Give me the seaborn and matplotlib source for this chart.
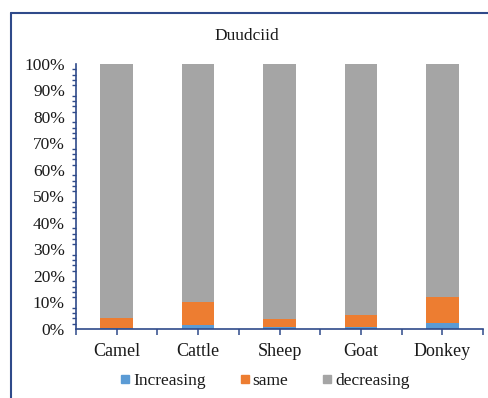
import numpy as np
import pandas as pd
import seaborn as sns
import matplotlib.pyplot as plt
from matplotlib.ticker import MultipleLocator, FixedLocator, PercentFormatter
from matplotlib.lines import Line2D

# Share of households by livestock trend (percent)
animals = ["Camel", "Cattle", "Sheep", "Goat", "Donkey"]
increasing = [0.5, 1.5, 0.6, 0.6, 2.4]
same = [3.5, 8.8, 3.1, 4.6, 9.6]
decreasing = [96.0, 89.7, 96.3, 94.8, 88.0]

series_names = ["Increasing", "same", "decreasing"]
colors = ["#5B9BD5", "#ED7D31", "#A5A5A5"]
axis_color = "#2F4A8A"

sns.set_theme(style="white")
plt.rcParams["font.family"] = ["Liberation Serif", "DejaVu Serif"]

df = pd.DataFrame({"animal": animals, "Increasing": increasing,
                   "same": same, "decreasing": decreasing})
# cumulative tops for stacking (drawn back to front)
df["top_inc"] = df["Increasing"]
df["top_same"] = df["top_inc"] + df["same"]
df["top_dec"] = df["top_same"] + df["decreasing"]

fig = plt.figure(figsize=(4.88, 3.98), dpi=100)
ax = fig.add_axes([76 / 488, 1 - 329 / 398, (483 - 76) / 488, (329 - 64) / 398])

for col, c in zip(["top_dec", "top_same", "top_inc"], colors[::-1]):
    sns.barplot(data=df, x="animal", y=col, color=c, width=0.4,
                saturation=1, ax=ax, linewidth=0, edgecolor="none")

ax.set_xlim(-0.5, len(animals) - 0.5)
ax.set_ylim(0, 100)
ax.set_xlabel("")
ax.set_ylabel("")

ax.yaxis.set_major_locator(MultipleLocator(10))
ax.yaxis.set_minor_locator(MultipleLocator(2))
ax.yaxis.set_major_formatter(PercentFormatter(decimals=0))

ax.set_xticks(range(len(animals)))
ax.set_xticklabels(animals)
ax.xaxis.set_minor_locator(FixedLocator(np.arange(-0.5, len(animals), 1.0)))

for side in ["top", "right"]:
    ax.spines[side].set_visible(False)
for side in ["left", "bottom"]:
    ax.spines[side].set_color(axis_color)
    ax.spines[side].set_linewidth(1.2)

ax.tick_params(axis="y", which="major", direction="out", length=4, width=1.1,
               color=axis_color, labelsize=12.5, labelcolor="#1a1a1a", pad=4)
ax.tick_params(axis="y", which="minor", direction="out", length=3, width=1.0,
               color=axis_color, left=True)
ax.tick_params(axis="x", which="both", direction="out", length=4, width=1.1,
               color=axis_color, bottom=True, labelsize=13,
               labelcolor="#1a1a1a", pad=6)

fig.text(0.505, 1 - 36 / 398, "Duudciid", ha="center", va="center",
         fontsize=12.5, color="#1a1a1a")

handles = [Line2D([], [], marker="s", linestyle="none", markersize=6,
                  markerfacecolor=c, markeredgecolor=c) for c in colors]
fig.legend(handles, series_names, loc="center", bbox_to_anchor=(0.541, 1 - 381 / 398),
           ncol=3, frameon=False, fontsize=12.5, handletextpad=0.05,
           columnspacing=1.85, labelcolor="#1a1a1a", handlelength=0.8)

# chart frame lines
fig.add_artist(Line2D([11 / 488, 11 / 488], [0, 1 - 13 / 398],
                      transform=fig.transFigure, color=axis_color, linewidth=1.5))
fig.add_artist(Line2D([11 / 488, 1], [1 - 13 / 398, 1 - 13 / 398],
                      transform=fig.transFigure, color=axis_color, linewidth=1.5))

fig.savefig("out.png", dpi=100, facecolor="white")
